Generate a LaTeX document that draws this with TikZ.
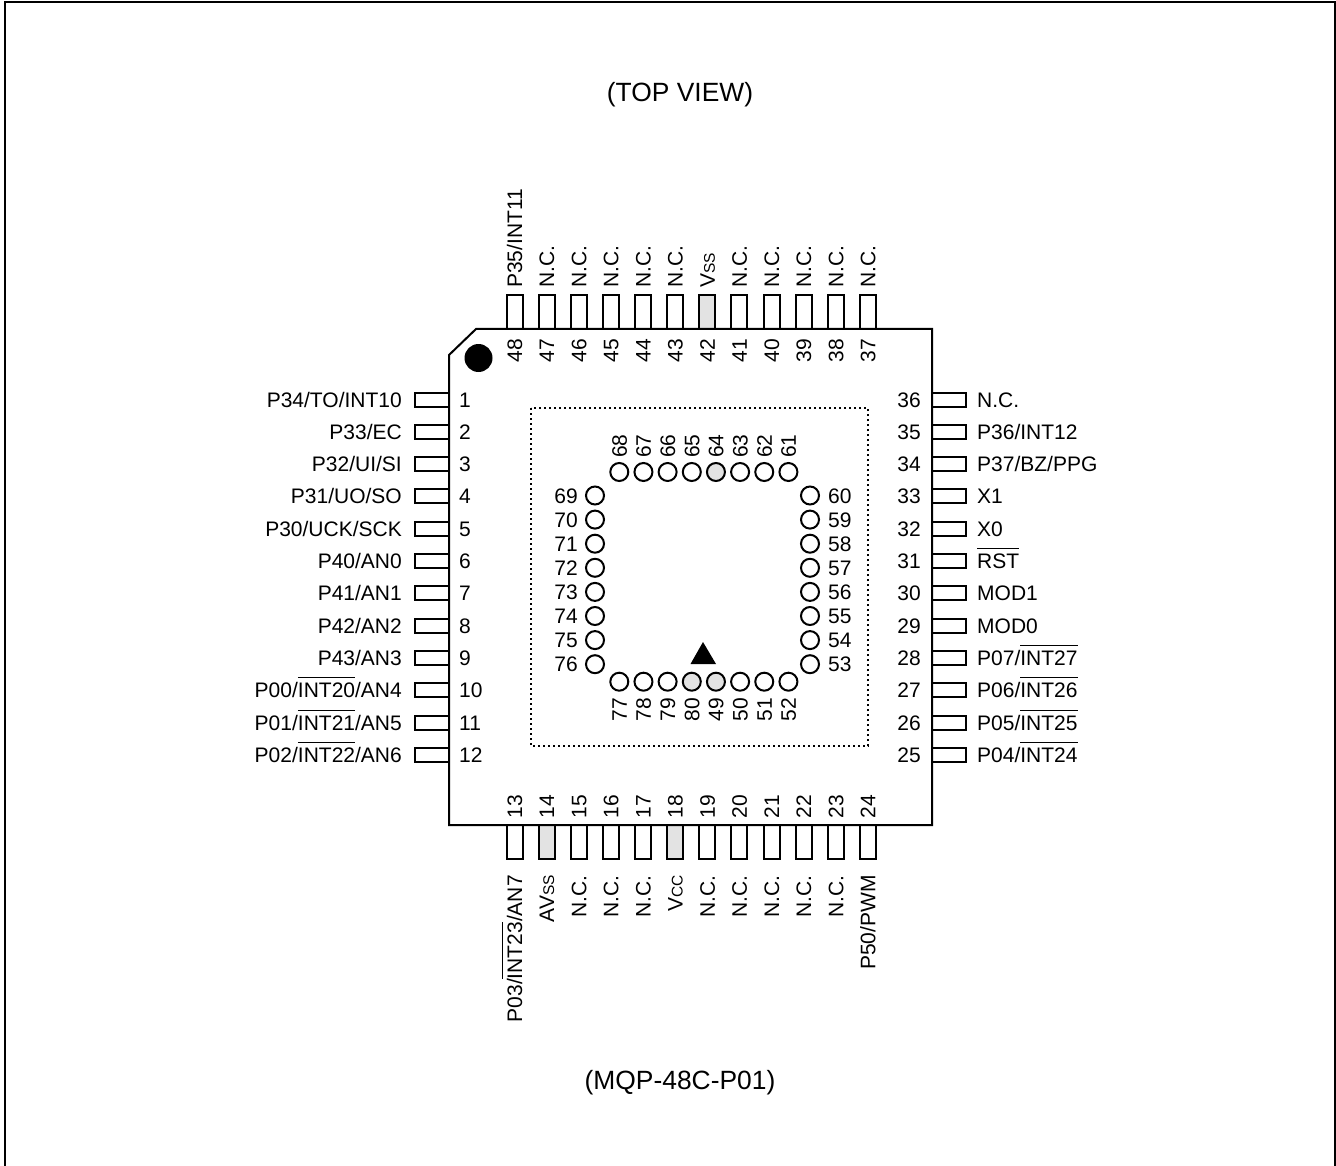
\documentclass[tikz,border=0pt]{standalone}
\usepackage{fontspec}
\setmainfont{Liberation Sans}
\newsavebox{\ovlbox}
\newcommand{\ovl}[1]{\sbox{\ovlbox}{#1}\leavevmode\rlap{\smash{\raisebox{19.5pt}{\rule{\wd\ovlbox}{1pt}}}}\usebox{\ovlbox}}
\newcommand{\smc}[1]{{\fontsize{15.5}{17}\selectfont #1}}
\tikzset{
  x=1pt,y=-1pt,
  base/.style={font=\fontsize{21}{24}\selectfont,inner sep=0pt,text=black},
  heading/.style={font=\fontsize{26.4}{29}\selectfont,inner sep=0pt,text=black},
  pinbox/.style={draw=black,line width=2pt,fill=white},
  pinboxg/.style={draw=black,line width=2pt,fill=black!11},
  ball/.style={circle,draw=black,line width=2pt,fill=white,minimum size=18pt,inner sep=0pt},
  ballg/.style={ball,fill=black!11},
  lname/.style={base,anchor=base east},
  rname/.style={base,anchor=base west},
  lnum/.style={base,anchor=base west},
  rnum/.style={base,anchor=base east},
  tname/.style={base,rotate=90,anchor=base west},
  bname/.style={base,rotate=90,anchor=base east},
}
\begin{document}
\begin{tikzpicture}
\useasboundingbox (0,0) rectangle (1336,1166);
\draw[line width=2pt] (5,1170) -- (5,2) -- (1335,2) -- (1335,1170);
\node[heading] (title) at (680,95) {(TOP VIEW)};
\node[heading] (pkg) at (680,1083) {(MQP-48C-P01)};
% package pins (drawn below the body)
\foreach \n/\t [count=\i from 0] in {1/{P34/TO/INT10},2/{P33/EC},3/{P32/UI/SI},4/{P31/UO/SO},5/{P30/UCK/SCK},6/{P40/AN0},7/{P41/AN1},8/{P42/AN2},9/{P43/AN3},10/{P00/\ovl{INT20}/AN4},11/{P01/\ovl{INT21}/AN5},12/{P02/\ovl{INT22}/AN6}}{
  \pgfmathsetmacro\yy{399.5+32.3*\i}
  \draw[pinbox] (415,\yy-7) rectangle (449,\yy+7);
  \node[lname] (ln\n) at (402,\yy+7.5) {\t};
  \node[lnum] (lp\n) at (459,\yy+7.5) {\n};
}
\foreach \n/\t [count=\i from 0] in {36/{N.C.},35/{P36/INT12},34/{P37/BZ/PPG},33/{X1},32/{X0},31/{\ovl{RST}},30/{MOD1},29/{MOD0},28/{P07/\ovl{INT27}},27/{P06/\ovl{INT26}},26/{P05/\ovl{INT25}},25/{P04/\ovl{INT24}}}{
  \pgfmathsetmacro\yy{399.5+32.3*\i}
  \draw[pinbox] (932,\yy-7) rectangle (966,\yy+7);
  \node[rname] (rn\n) at (977,\yy+7.5) {\t};
  \node[rnum] (rp\n) at (921,\yy+7.5) {\n};
}
\foreach \n/\t/\s [count=\i from 0] in {48/{P35/INT11}/pinbox,47/{N.C.}/pinbox,46/{N.C.}/pinbox,45/{N.C.}/pinbox,44/{N.C.}/pinbox,43/{N.C.}/pinbox,42/{V\smc{SS}}/pinboxg,41/{N.C.}/pinbox,40/{N.C.}/pinbox,39/{N.C.}/pinbox,38/{N.C.}/pinbox,37/{N.C.}/pinbox}{
  \pgfmathsetmacro\xx{514.5+32.13*\i}
  \draw[\s] (\xx-8,295) rectangle (\xx+8,329);
  \node[tname] (tn\n) at (\xx+7.5,288) {\t};
  \node[tname] (tp\n) at (\xx+7.5,362.5) {\n};
}
\foreach \n/\t/\s [count=\i from 0] in {13/{P03/\ovl{INT23}/AN7}/pinbox,14/{AV\smc{SS}}/pinboxg,15/{N.C.}/pinbox,16/{N.C.}/pinbox,17/{N.C.}/pinbox,18/{V\smc{CC}}/pinboxg,19/{N.C.}/pinbox,20/{N.C.}/pinbox,21/{N.C.}/pinbox,22/{N.C.}/pinbox,23/{N.C.}/pinbox,24/{P50/PWM}/pinbox}{
  \pgfmathsetmacro\xx{514.5+32.13*\i}
  \draw[\s] (\xx-8,825) rectangle (\xx+8,859);
  \node[bname] (bn\n) at (\xx+7.5,875) {\t};
  \node[tname] (bp\n) at (\xx+7.5,818.5) {\n};
}
% package body outline
\draw[line width=2pt,line join=miter] (476,329) -- (932,329) -- (932,825) -- (449,825) -- (449,355) -- cycle;
\node[circle,fill=black,minimum size=28pt,inner sep=0pt] (dot) at (478.5,358) {};
\draw[line width=2pt,dash pattern=on 2.4pt off 2.6pt] (531,408) rectangle (868,746);
\fill (703,642) -- (716,664) -- (690.5,664) -- cycle;
% inner pads
\foreach \n/\s [count=\i from 0] in {77/ball,78/ball,79/ball,80/ballg,49/ballg,50/ball,51/ball,52/ball}{
  \pgfmathsetmacro\xx{619.3+24.16*\i}
  \node[\s] (c\n) at (\xx,681.7) {};
  \node[bname] (cl\n) at (\xx+7.5,698) {\n};
}
\foreach \n/\s [count=\i from 0] in {68/ball,67/ball,66/ball,65/ball,64/ballg,63/ball,62/ball,61/ball}{
  \pgfmathsetmacro\xx{619.3+24.16*\i}
  \node[\s] (c\n) at (\xx,472) {};
  \node[tname] (cl\n) at (\xx+7.5,458) {\n};
}
\foreach \n [count=\i from 0] in {69,...,76}{
  \pgfmathsetmacro\yy{495.5+24.1*\i}
  \node[ball] (c\n) at (595,\yy) {};
  \node[rnum] (cl\n) at (578,\yy+7.5) {\n};
}
\foreach \n [count=\i from 0] in {60,59,...,53}{
  \pgfmathsetmacro\yy{495.5+24.1*\i}
  \node[ball] (c\n) at (810,\yy) {};
  \node[lnum] (cl\n) at (828,\yy+7.5) {\n};
}
\end{tikzpicture}
\end{document}
